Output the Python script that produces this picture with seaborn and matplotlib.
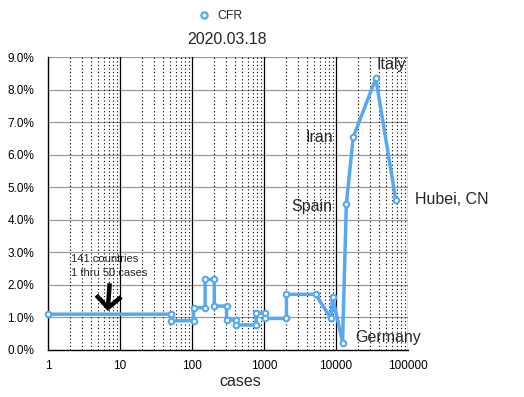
import matplotlib
matplotlib.use("Agg")
import matplotlib.pyplot as plt
import seaborn as sns
import pandas as pd
import numpy as np
from matplotlib.ticker import FixedLocator, FuncFormatter
from matplotlib.lines import Line2D

sns.set_style("white")
plt.rcParams['font.family'] = ['Liberation Sans', 'DejaVu Sans']

# data: cases vs case fatality rate (%)
cases = [1, 51, 51, 105, 105, 152, 152, 204, 204, 302, 302, 408, 408, 776, 776,
         1025, 1025, 2050, 2050, 5220, 8480, 8960, 12327, 13910, 17361, 35713, 67800]
cfr = [1.1, 1.1, 0.9, 0.9, 1.3, 1.3, 2.17, 2.17, 1.35, 1.35, 0.92, 0.92, 0.77, 0.77, 1.14,
       1.14, 0.97, 0.97, 1.71, 1.71, 0.97, 1.63, 0.23, 4.48, 6.54, 8.34, 4.6]
y_ticks = [0, 1, 2, 3, 4, 5, 6, 7, 8, 9]
x_ticks = [1, 10, 100, 1000, 10000, 100000]
x_tick_labels = ["1", "10", "100", "1000", "10000", "100000"]
labels = ["Italy", "Iran", "Spain", "Hubei, CN", "Germany"]

df = pd.DataFrame({"cases": cases, "CFR": cfr})

W, H = 524, 397
fig = plt.figure(figsize=(W / 100, H / 100), dpi=100)
ax = fig.add_axes([48 / W, 1 - 350 / H, (408 - 48) / W, (350 - 57) / H])

blue = "#56A8F2"
ax.set_xscale("log")
sns.lineplot(data=df, x="cases", y="CFR", sort=False, estimator=None, ax=ax,
             color=blue, linewidth=2.5, marker="o", markersize=4,
             markerfacecolor="white", markeredgecolor=blue, markeredgewidth=1.5,
             zorder=5, clip_on=False)

ax.set_xlim(1, 100000)
ax.set_ylim(0, 9)

# grid
for yv in y_ticks[1:]:
    ax.axhline(yv, color="#9a9a9a", lw=0.9, zorder=1)
for xv in x_ticks[1:]:
    ax.axvline(xv, color="black", lw=0.9, zorder=2)
for dec in x_ticks[:-1]:
    for m in range(2, 10):
        ax.axvline(dec * m, color="black", lw=0.8, ls=(0, (1, 2.2)), zorder=1)

ax.set_yticks(y_ticks)
ax.yaxis.set_major_formatter(FuncFormatter(lambda v, p: f"{v:.1f}%"))
ax.xaxis.set_major_locator(FixedLocator(x_ticks))
ax.set_xticklabels(x_tick_labels)
ax.xaxis.set_minor_locator(FixedLocator([]))
ax.tick_params(axis="both", which="both", length=0, labelsize=8.5, colors="black")
ax.tick_params(axis="y", pad=10)
ax.tick_params(axis="x", pad=7)
ax.set_xlabel("")
ax.set_ylabel("")
for s in ["left", "bottom"]:
    ax.spines[s].set_color("black")
    ax.spines[s].set_linewidth(1.0)
ax.spines["top"].set_visible(False)
ax.spines["right"].set_visible(False)

# annotations
fs = 11.5
ax.text(94000, 8.77, labels[0], ha="right", va="center", fontsize=fs, zorder=6)
ax.text(9080, 6.54, labels[1], ha="right", va="center", fontsize=fs, zorder=6)
ax.text(8800, 4.42, labels[2], ha="right", va="center", fontsize=fs, zorder=6)
ax.text(125000, 4.62, labels[3], ha="left", va="center", fontsize=fs, clip_on=False)
ax.text(18400, 0.39, labels[4], ha="left", va="center", fontsize=fs, zorder=6)
ax.text(2.07, 2.78, "141 countries", ha="left", va="center", fontsize=8)
ax.text(2.07, 2.35, "1 thru 50 cases", ha="left", va="center", fontsize=8)
ax.annotate("", xy=(6.75, 1.2), xytext=(7.19, 2.05),
            arrowprops=dict(arrowstyle="->,head_width=0.9,head_length=0.85",
                            color="black", lw=3.2, shrinkA=0, shrinkB=0,
                            mutation_scale=10,
                            joinstyle="miter", capstyle="butt"), zorder=6)

# title, legend, xlabel
fig.text(226.7 / W, 1 - 40 / H, "2020.03.18", ha="center", va="center", fontsize=11.4)
fig.text(240 / W, 1 - 381 / H, "cases", ha="center", va="center", fontsize=11.5)
handle = Line2D([], [], color=blue, marker="o", linestyle="None", markersize=4.5,
                markerfacecolor="white", markeredgecolor=blue, markeredgewidth=1.6)
fig.legend([handle], ["CFR"], loc="center", bbox_to_anchor=(220 / W, 1 - 16 / H),
           frameon=False, fontsize=8.8, handlelength=1.0, handletextpad=0.6)

fig.savefig("out.png", dpi=100)
